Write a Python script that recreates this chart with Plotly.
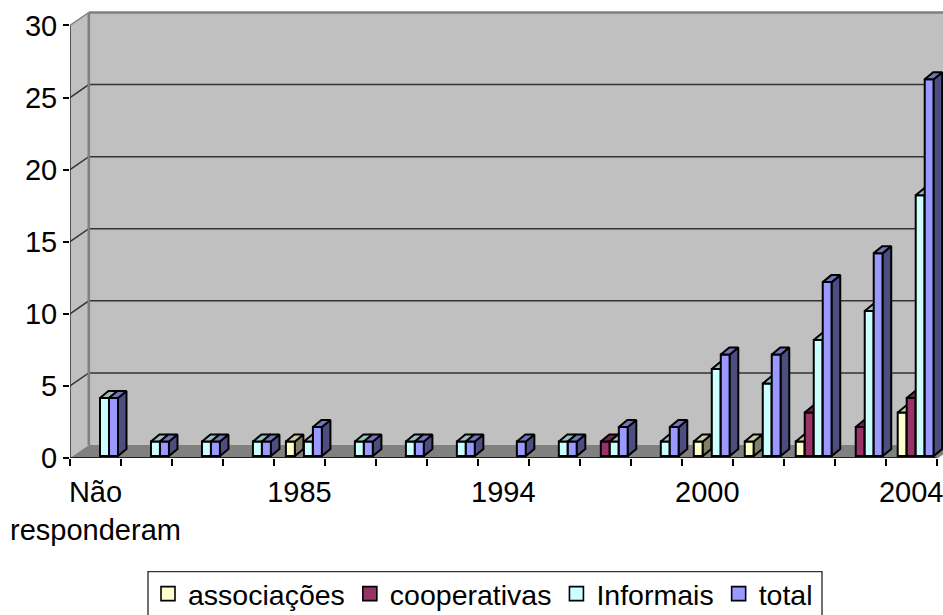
import plotly.graph_objects as go

categories = ["Não<br>responderam", "", "", "", "1985", "", "", "", "1994",
              "", "", "", "2000", "", "", "", "2004"]
associacoes = [0, 0, 0, 0, 1, 0, 0, 0, 0, 0, 0, 0, 1, 1, 1, 0, 3]
cooperativas = [0, 0, 0, 0, 0, 0, 0, 0, 0, 0, 1, 0, 0, 0, 3, 2, 4]
informais = [4, 1, 1, 1, 1, 1, 1, 1, 0, 1, 1, 1, 6, 5, 8, 10, 18]
total = [4, 1, 1, 1, 2, 1, 1, 1, 1, 1, 2, 2, 7, 7, 12, 14, 26]
series_names = ["associações", "cooperativas", "Informais", "total"]
series_values = [associacoes, cooperativas, informais, total]
front_colors = ["#FFFFCC", "#993366", "#CCFFFF", "#9999FF"]
top_colors = ["#CCCCA3", "#73264D", "#99BFBF", "#7373BF"]
side_colors = ["#80806A", "#4D1A33", "#668080", "#4D4D80"]
y_ticks = [0, 5, 10, 15, 20, 25, 30]

W, H = 943, 615
L, R, T, B = 70, 936.7, 25.5, 458.3      # the front plane of the chart box
PLOT_TOP = 8                             # plot area is larger, to hold the depth
n = len(categories)
cat_px = (R - L) / n
unit_px = (B - T) / 30
bar_unit_px = 14.5
bar_floor_px = 2.0
bar_shift_px = 4.5
bar_w = 9.0 / cat_px
wall_dx = 18.8 / cat_px
wall_dy = 13.0 / unit_px
bar_dx = 8.5 / cat_px
bar_dy = 7.0 / bar_unit_px
x_max = (W - L) / cat_px
y_max = (B - PLOT_TOP) / unit_px
EDGE = 2.0
FONT = "Liberation Sans, Arial, sans-serif"

fig = go.Figure()


def poly(xs, ys, fill, xa="x", ya="y", line=None, width=0):
    fig.add_trace(go.Scatter(x=xs, y=ys, mode="lines", fill="toself", fillcolor=fill,
                             line=dict(color=line or fill, width=width), cliponaxis=False,
                             showlegend=False, hoverinfo="skip", xaxis=xa, yaxis=ya))


def seg(xs, ys, color, width):
    fig.add_trace(go.Scatter(x=xs, y=ys, mode="lines", line=dict(color=color, width=width),
                             cliponaxis=False, showlegend=False, hoverinfo="skip"))


top_y = 30 + wall_dy
# walls and floor
poly([wall_dx, x_max, x_max, wall_dx, wall_dx], [wall_dy, wall_dy, top_y, top_y, wall_dy], "#C0C0C0")
poly([0, wall_dx, wall_dx, 0, 0], [0, wall_dy, top_y, 30, 0], "#C0C0C0")
poly([0, wall_dx, x_max, x_max, n, 0], [0, wall_dy, wall_dy, (x_max - n) / wall_dx * wall_dy, 0, 0], "#808080")
# gridlines on the walls
gx, gy = [], []
for v in y_ticks[1:-1]:
    gx += [0, wall_dx, x_max, None]
    gy += [v, v + wall_dy, v + wall_dy, None]
seg(gx, gy, "#333333", 1.5)
# wall edges
seg([wall_dx, wall_dx], [wall_dy, top_y], "#808080", 2.6)
seg([wall_dx, x_max], [top_y, top_y], "#808080", 2.6)
seg([0, wall_dx], [30, top_y], "#808080", 1.5)
# front axis lines, which stop at the edge of the box
seg([0, 0], [0, 30], "#333333", 1.5)
seg([0, n], [0, 0], "#000000", 1.5)
seg([n, x_max], [0, (x_max - n) / wall_dx * wall_dy], "#808080", 1.5)

# one overlay pair of axes per series, so each series paints over the one on its left
for s, (name, vals) in enumerate(zip(series_names, series_values)):
    xa, ya = f"x{s + 2}", f"y{s + 2}"
    idx = [i for i, v in enumerate(vals) if v > 0]
    centers = [i + 0.5 + (s - 1.5) * bar_w for i in idx]
    heights = [vals[i] for i in idx]
    sx, sy, tx, ty = [], [], [], []
    for c, h in zip(centers, heights):
        x0, x1 = c - bar_w / 2, c + bar_w / 2
        sx += [x1, x1 + bar_dx, x1 + bar_dx, x1, x1, None]
        sy += [0, bar_dy, h + bar_dy, h, 0, None]
        tx += [x0, x0 + bar_dx, x1 + bar_dx, x1, x0, None]
        ty += [h, h + bar_dy, h + bar_dy, h, h, None]
    poly(sx, sy, side_colors[s], xa, ya, "#000000", EDGE)
    poly(tx, ty, top_colors[s], xa, ya, "#000000", EDGE)
    fig.add_trace(go.Bar(x=centers, y=heights, width=bar_w, name=name, xaxis=xa, yaxis=ya,
                         marker=dict(color=front_colors[s], line=dict(color="#000000", width=EDGE)),
                         cliponaxis=False, showlegend=False, legendgroup=name))
    # legend key: same colours, with the larger square of the reference
    fig.add_trace(go.Scatter(x=[None], y=[None], mode="markers", name=name, legendgroup=name,
                             marker=dict(symbol="square", size=14, color=front_colors[s],
                                         line=dict(color="#000000", width=1.6)),
                             showlegend=True, hoverinfo="skip"))

plot_w = W - L
plot_h = B - PLOT_TOP
layout = dict(
    width=W, height=H, autosize=False,
    margin=dict(l=L, r=0, t=PLOT_TOP, b=H - B, pad=0, autoexpand=False),
    paper_bgcolor="#FFFFFF", plot_bgcolor="rgba(0,0,0,0)",
    font=dict(family=FONT, size=29, color="#000000"),
    barmode="overlay", showlegend=True,
    xaxis=dict(range=[0, x_max], showgrid=False, zeroline=False, showline=False, tickmode="array",
               tickvals=[i + 0.5 for i, c in enumerate(categories) if c],
               ticktext=[c for c in categories if c], ticks="", ticklen=0, tickangle=0,
               ticklabelstandoff=14, automargin=False, ticklabeloverflow="allow",
               minor=dict(tickmode="array", tickvals=list(range(n + 1)), ticks="outside",
                          ticklen=7, tickcolor="#000000", tickwidth=1.5, showgrid=False)),
    yaxis=dict(range=[0, y_max], showgrid=False, zeroline=False, showline=False, tickvals=y_ticks,
               ticks="outside", ticklen=6, tickwidth=1.5, tickcolor="#000000", automargin=False),
    legend=dict(orientation="h", x=(148 - L) / plot_w, y=(B - 569) / plot_h,
                xanchor="left", yanchor="top", bgcolor="rgba(0,0,0,0)", borderwidth=0,
                font=dict(family=FONT, size=28.5), tracegroupgap=0),
    shapes=[dict(type="rect", xref="paper", yref="paper", layer="below",
                 x0=(148 - L) / plot_w, x1=(822 - L) / plot_w,
                 y0=(B - 625) / plot_h, y1=(B - 572) / plot_h,
                 line=dict(color="#333333", width=1.4), fillcolor="#FFFFFF")],
)
shift_x = bar_shift_px / cat_px
y_lo = -bar_floor_px / bar_unit_px
y_hi = y_lo + plot_h / bar_unit_px
for s in range(4):
    k = s + 2
    layout[f"xaxis{k}"] = dict(range=[-shift_x, x_max - shift_x], overlaying="x", anchor=f"y{k}", visible=False)
    layout[f"yaxis{k}"] = dict(range=[y_lo, y_hi], overlaying="y", anchor=f"x{k}", visible=False)
fig.update_layout(**layout)
fig.write_html("out.html", config={"displayModeBar": False},
               post_script="document.body.style.margin='0';document.body.style.overflow='hidden';")
